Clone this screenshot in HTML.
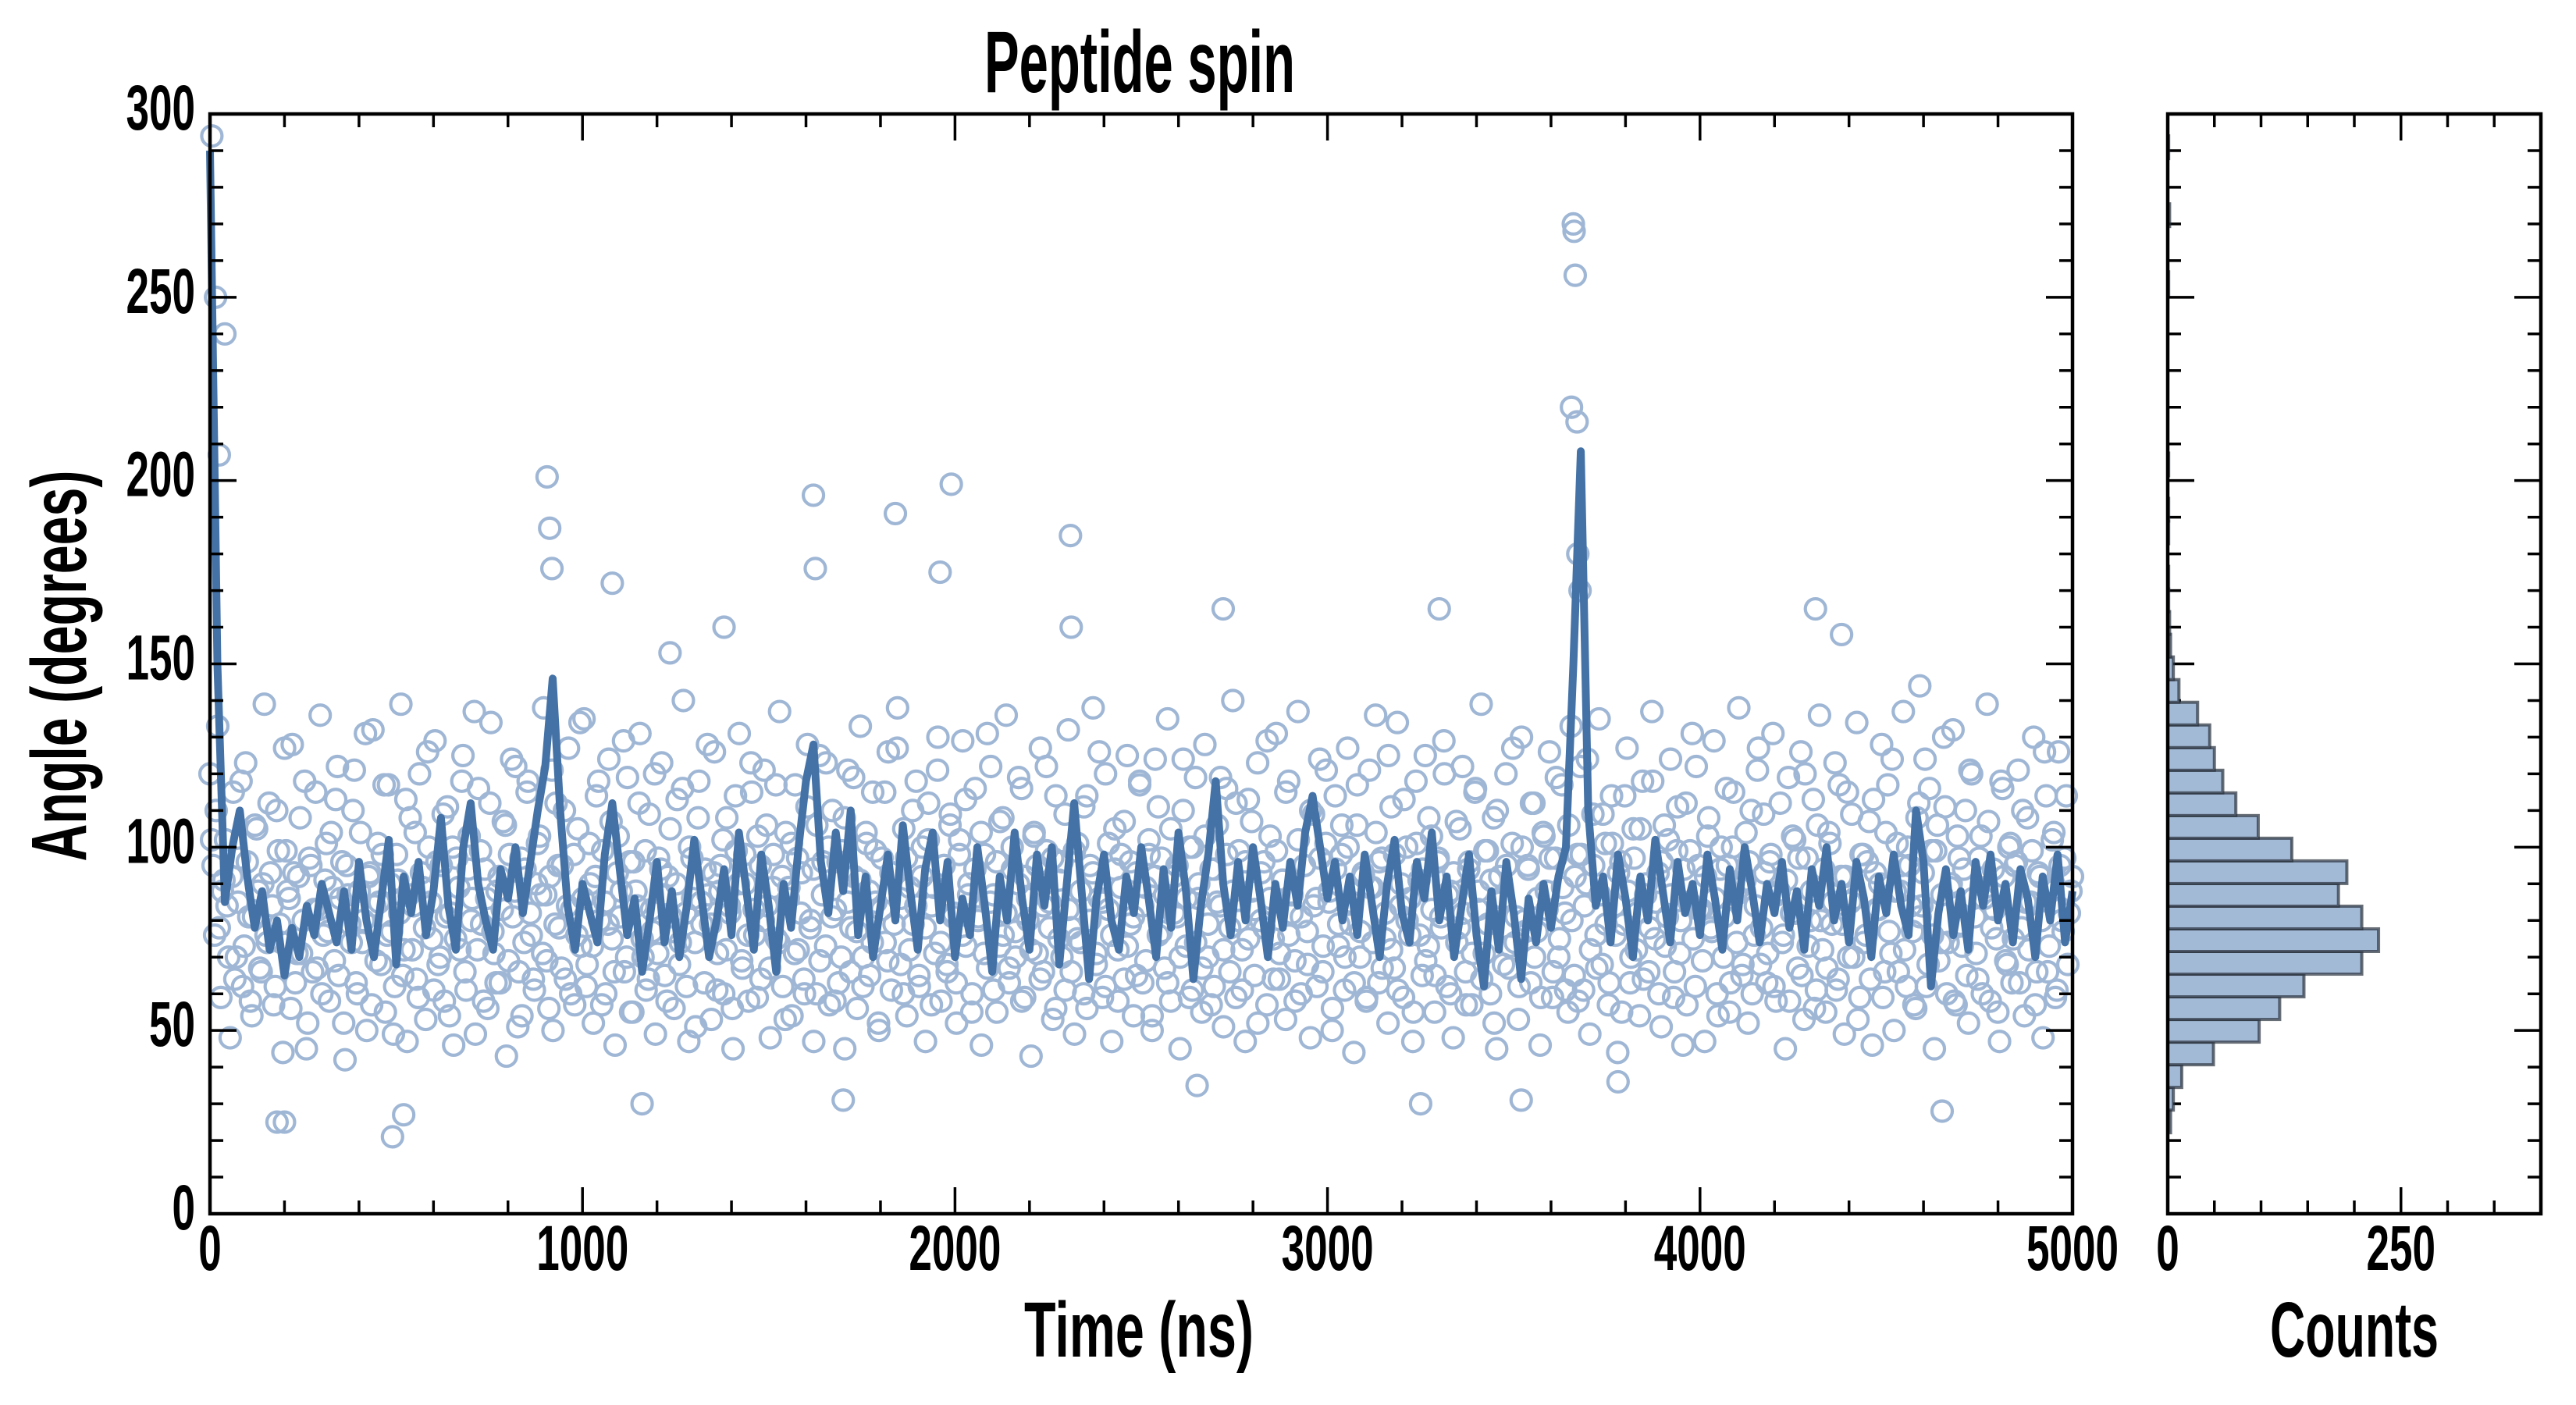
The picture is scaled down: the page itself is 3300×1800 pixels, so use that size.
<!DOCTYPE html>
<html><head><meta charset="utf-8"><style>
html,body{margin:0;padding:0;background:#fff;}
svg{display:block;}
text{font-family:"Liberation Sans Narrow","Liberation Sans",sans-serif;font-weight:bold;fill:#000;}
</style></head><body>
<svg id="chart" width="3300" height="1800" viewBox="0 0 3300 1800" xmlns="http://www.w3.org/2000/svg">
<g id="main"></g>
<g id="hist"></g>
</svg>
<script>
// ---- data ----
const lineValues = [290,150,85,100,110,92,78,88,72,80,65,78,70,84,76,90,82,74,88,72,96,80,70,86,102,68,92,82,96,76,88,108,84,72,100,112,90,80,72,94,86,100,82,96,110,122,146,110,84,72,90,82,74,98,112,94,76,86,66,80,96,74,88,70,84,102,86,70,80,94,76,104,88,72,98,84,66,90,78,100,118,128,96,82,104,88,110,76,92,70,84,98,80,106,88,72,94,104,80,96,70,86,76,100,84,66,92,80,104,86,72,98,84,100,68,90,112,88,64,86,98,80,72,92,82,100,86,70,94,78,104,88,64,84,98,118,90,76,96,80,100,86,70,90,78,96,84,104,114,100,86,96,80,92,76,98,84,70,90,102,82,74,96,86,104,80,92,70,84,98,76,62,88,72,96,82,64,86,74,90,78,92,100,150,208,110,84,92,74,98,86,70,92,80,102,88,74,96,82,90,76,98,86,72,94,80,100,88,74,90,82,96,78,88,72,94,84,100,80,90,74,96,86,70,92,82,98,84,76,110,96,62,82,94,76,88,72,96,84,98,80,90,74,94,86,70,92,80,98,74,88];
const scatterValues = [
120,95,110,78,88,102,70,92,64,85,118,73,96,58,81,105,67,90,76,112,
84,62,99,74,127,88,56,93,71,108,80,45,97,66,115,83,60,91,77,104,
69,122,86,52,95,79,110,63,88,74,131,92,57,84,101,68,117,76,90,49,
98,82,65,113,87,72,104,59,93,78,126,85,61,96,70,109,81,54,100,75,
89,118,66,94,80,137,72,99,58,86,112,77,63,92,83,106,69,124,88,51,
97,74,115,82,64,90,103,71,87,56,121,79,95,67,110,84,60,98,76,134,
86,62,101,73,92,118,57,85,79,107,66,93,81,129,70,96,55,88,112,75,
99,64,83,120,71,94,87,58,105,77,90,68,116,82,47,97,74,108,85,63,
128,79,93,61,88,102,72,84,56,114,90,69,98,76,123,83,59,95,80,106,
67,89,117,74,92,53,86,101,71,97,82,64,111,78,94,60,125,87,73,100,
81,58,96,70,108,85,66,119,77,91,62,104,88,74,99,52,83,115,69,93,
79,127,86,60,97,72,110,84,65,92,78,102,57,89,121,74,95,68,106,81,
63,98,76,113,87,55,94,80,104,71,131,85,61,96,73,108,82,67,100,77,
90,116,59,86,72,103,95,64,84,122,78,97,56,91,70,109,83,66,99,75,
88,60,114,80,93,71,126,85,62,101,76,94,58,89,107,73,96,81,65,118,
84,69,98,54,92,111,77,87,63,105,82,95,70,124,86,59,100,74,90,67,
103,79,57,94,85,119,72,98,66,88,112,80,61,96,75,107,83,52,93,78,
129,86,64,99,71,91,115,76,87,58,102,81,95,68,110,84,62,97,73,121,
88,56,94,79,106,70,100,85,63,117,77,92,59,89,74,104,96,67,82,125,
72,98,61,90,113,80,86,55,101,76,94,69,108,83,65,97,78,120,87,60,
93,74,105,82,57,96,71,116,88,64,99,79,91,52,110,85,68,95,73,127,
81,62,100,77,94,112,70,86,59,103,83,97,66,119,75,89,61,106,80,92,
58,98,84,124,72,95,67,87,109,79,63,101,76,93,55,114,88,70,97,82,
105,64,90,78,118,85,60,96,73,102,87,66,111,80,94,57,99,75,122,83,
69,92,108,77,86,54,100,81,95,63,115,74,89,68,104,96,60,84,127,78,
93,71,98,62,87,112,76,91,58,103,82,97,65,120,73,88,56,106,80,94,
67,101,85,61,117,79,92,70,109,86,53,98,74,96,64,113,83,90,59,104,
77,124,88,66,95,72,100,84,57,108,81,93,62,116,76,99,69,87,111,74,
90,58,103,79,94,65,121,86,71,97,60,89,107,78,83,55,118,92,68,101,
75,96,63,110,85,72,99,57,93,80,126,66,88,104,61,95,77,114,82,92
];
const scatterValues2 = [
102,76,133,59,91,84,48,115,70,97,62,123,81,54,106,88,66,139,74,93,
57,110,79,44,99,86,128,63,92,71,118,52,95,83,67,136,76,101,58,89,
113,65,96,42,87,74,121,60,104,80,50,93,132,69,85,98,55,117,77,62,
91,139,72,47,108,84,64,120,89,53,100,75,129,68,95,58,111,82,46,97,
72,125,61,103,86,49,116,79,94,56,134,71,88,63,107,43,98,81,122,66,
54,94,118,76,61,101,87,138,69,92,50,112,78,95,64,127,83,57,105,73,
135,68,90,52,114,80,99,60,124,75,46,103,88,66,119,55,96,84,131,70,
61,109,77,49,97,123,65,92,81,56,113,74,140,62,100,86,51,118,79,94,
87,53,126,71,95,60,108,82,45,99,131,67,90,58,115,76,103,64,121,84,
48,98,75,137,62,104,89,54,117,72,93,60,128,80,47,106,69,96,123,57,
110,83,63,99,45,121,78,92,56,133,70,101,65,115,85,50,97,74,126,61,
93,138,68,105,54,89,79,118,62,100,47,112,84,71,130,58,95,66,109,82,
52,102,129,73,90,60,116,81,46,98,67,122,87,55,107,76,136,63,94,70,
119,58,92,80,43,104,71,127,66,99,85,53,114,75,96,61,132,78,49,101,
74,111,56,95,138,68,86,59,120,83,47,105,72,98,64,125,79,54,93,117,
63,89,102,50,124,76,97,67,135,58,92,81,45,110,73,100,61,119,86,55,
128,70,94,62,106,84,51,116,78,140,59,99,72,47,113,88,65,123,80,96,
57,103,75,131,64,91,53,118,82,69,137,60,95,77,48,109,86,124,66,101,
85,50,114,73,98,61,127,79,44,106,70,93,58,121,89,136,63,97,75,52,
111,67,134,84,59,100,76,47,118,91,65,125,73,103,55,96,81,129,62,88,
48,107,78,122,66,94,57,115,83,139,71,99,60,108,45,92,86,120,67,101,
74,53,130,80,95,63,112,77,46,104,88,126,59,97,70,117,82,55,133,65,
98,122,61,90,49,109,76,135,68,101,57,114,84,44,96,79,127,63,105,72,
54,118,87,66,137,75,93,51,106,81,124,59,99,71,46,112,85,131,62,95,
83,47,103,78,129,60,94,70,116,55,100,87,138,65,91,52,110,76,121,68,
109,63,96,131,58,88,74,45,119,82,102,67,126,53,97,80,113,61,136,72,
55,104,79,123,64,92,49,115,85,70,134,59,98,76,107,46,93,83,128,66,
117,71,50,101,88,137,62,95,77,56,112,84,124,68,99,45,106,74,130,60,
89,132,57,97,73,110,52,120,81,64,103,86,139,58,94,75,47,116,69,100,
63,95,121,78,54,108,85,130,66,92,48,114,73,102,59,126,80,97,68,88
];
const outlierTimes = [5,15,25,40,180,200,490,520,905,912,918,1080,1620,1625,1840,1960,1990,2310,2312,2720,3300,3655,3660,3662,3665,3670,3672,3678,3250,3520,1700,1160,3780,4650,4380,4590,4310,2650,1380,1235];
const outlierValues = [294,250,207,240,25,25,21,27,201,187,176,172,196,176,191,175,199,185,160,165,165,220,270,268,256,216,180,170,30,31,31,30,36,28,158,144,165,35,160,153];
const histBinStart = 22.1;
const histBinWidth = 6.18;
const histCounts = [3,6,15,49,98,120,146,208,226,208,183,192,133,97,73,59,50,45,32,12,6,3,2,1,1,0,1,1,0,1,0,0,0,0,0,0,0,1,0,0,2,0,0,1];
const xTicks = [0,1000,2000,3000,4000,5000];
const yTicks = [0,50,100,150,200,250,300];
const countTicks = [0,250];

// ---- layout ----
const NS="http://www.w3.org/2000/svg";
const L=269,R=2655,T=146,B=1555;
const HL=2777,HR=3255;
const xS=t=>L+(t/5000)*(R-L);
const yS=v=>B-(v/300)*(B-T);
const cS=c=>HL+(c/400)*(HR-HL);
const main=document.getElementById('main');
const hist=document.getElementById('hist');
function mk(tag,attrs,parent){const e=document.createElementNS(NS,tag);for(const k in attrs)e.setAttribute(k,attrs[k]);parent.appendChild(e);return e;}

// scatter
const n=scatterValues.length;
scatterValues.forEach((v,i)=>{
  const c=mk('circle',{cx:xS(i*5000/(n-1)),cy:yS(v),r:13,fill:'none',stroke:'#9fb7d5','stroke-width':4.2},main);
  
  
});
const n2=scatterValues2.length;
scatterValues2.forEach((v,i)=>{
  const c=mk('circle',{cx:xS((i+0.5)*5000/n2),cy:yS(v),r:13,fill:'none',stroke:'#9fb7d5','stroke-width':4.2},main);
  
  
});
outlierTimes.forEach((t,i)=>{
  const c=mk('circle',{cx:xS(t),cy:yS(outlierValues[i]),r:13,fill:'none',stroke:'#9fb7d5','stroke-width':4.2},main);
  
  
});
// line
const m=lineValues.length;
const pts=lineValues.map((v,i)=>xS(i*5000/(m-1)).toFixed(1)+','+yS(v).toFixed(1)).join(' ');
const pl=mk('polyline',{points:pts,fill:'none',stroke:'#4472a6','stroke-width':10,'stroke-linejoin':'round'},main);



// histogram bars
histCounts.forEach((c,i)=>{
  if(c<=0)return;
  const y0=yS(histBinStart+i*histBinWidth), y1=yS(histBinStart+(i+1)*histBinWidth);
  const r=mk('rect',{x:HL,y:y1,width:cS(c)-HL,height:y0-y1,fill:'#a3bad6',stroke:'rgba(40,48,60,0.7)','stroke-width':4},hist);
  
  
});

// axes frames & ticks
function frame(x0,x1,parent,name){
  const f=mk('rect',{x:x0,y:T,width:x1-x0,height:B-T,fill:'none',stroke:'#000','stroke-width':4.5},parent);
  
  
}
frame(L,R,main,'main-axes-frame');
frame(HL,HR,hist,'hist-axes-frame');
function tk(x1,y1,x2,y2,parent){const l=mk('line',{x1,y1,x2,y2,stroke:'#000','stroke-width':3.5},parent);return l;}
for(let v=0;v<=300;v+=10){
  const y=yS(v), len=(v%50===0)?34:17;
  [[L,1],[R,-1],[HL,1],[HR,-1]].forEach(([x,d])=>{const l=tk(x,y,x+d*len,y,main);});
}
for(let t=0;t<=5000;t+=200){
  const x=xS(t), len=(t%1000===0)?34:17;
  const a=tk(x,B,x,B-len,main);
  const b=tk(x,T,x,T+len,main);
}
for(let c=0;c<=400;c+=50){
  const x=cS(c), len=(c%250===0)?34:17;
  const a=tk(x,B,x,B-len,hist);
  const b=tk(x,T,x,T+len,hist);
}
// labels
function txt(s,x,y,size,anchor,len,parent){
  const e=mk('text',{x,y,'font-size':size,'text-anchor':anchor},parent);
  if(len){e.setAttribute('textLength',len);e.setAttribute('lengthAdjust','spacingAndGlyphs');}
  e.textContent=s;return e;
}
xTicks.forEach(t=>{const e=txt(String(t),xS(t),1627,82,'middle',String(t).length*29.5,main);});
yTicks.forEach(v=>{const e=txt(String(v),250,yS(v)+20,82,'end',String(v).length*29.5,main);});
countTicks.forEach(c=>{const e=txt(String(c),cS(c),1627,82,'middle',String(c).length*29.5,hist);});
let e;
e=txt('Peptide spin',1460,118,112,'middle',398,main);


e=txt('Time (ns)',1459,1738,100,'middle',294,main);


e=txt('Counts',3016,1738,100,'middle',216,hist);


e=txt('Angle (degrees)',0,0,100,'middle',501,main);
e.setAttribute('transform','translate(110,853) rotate(-90)');


</script>
</body></html>
